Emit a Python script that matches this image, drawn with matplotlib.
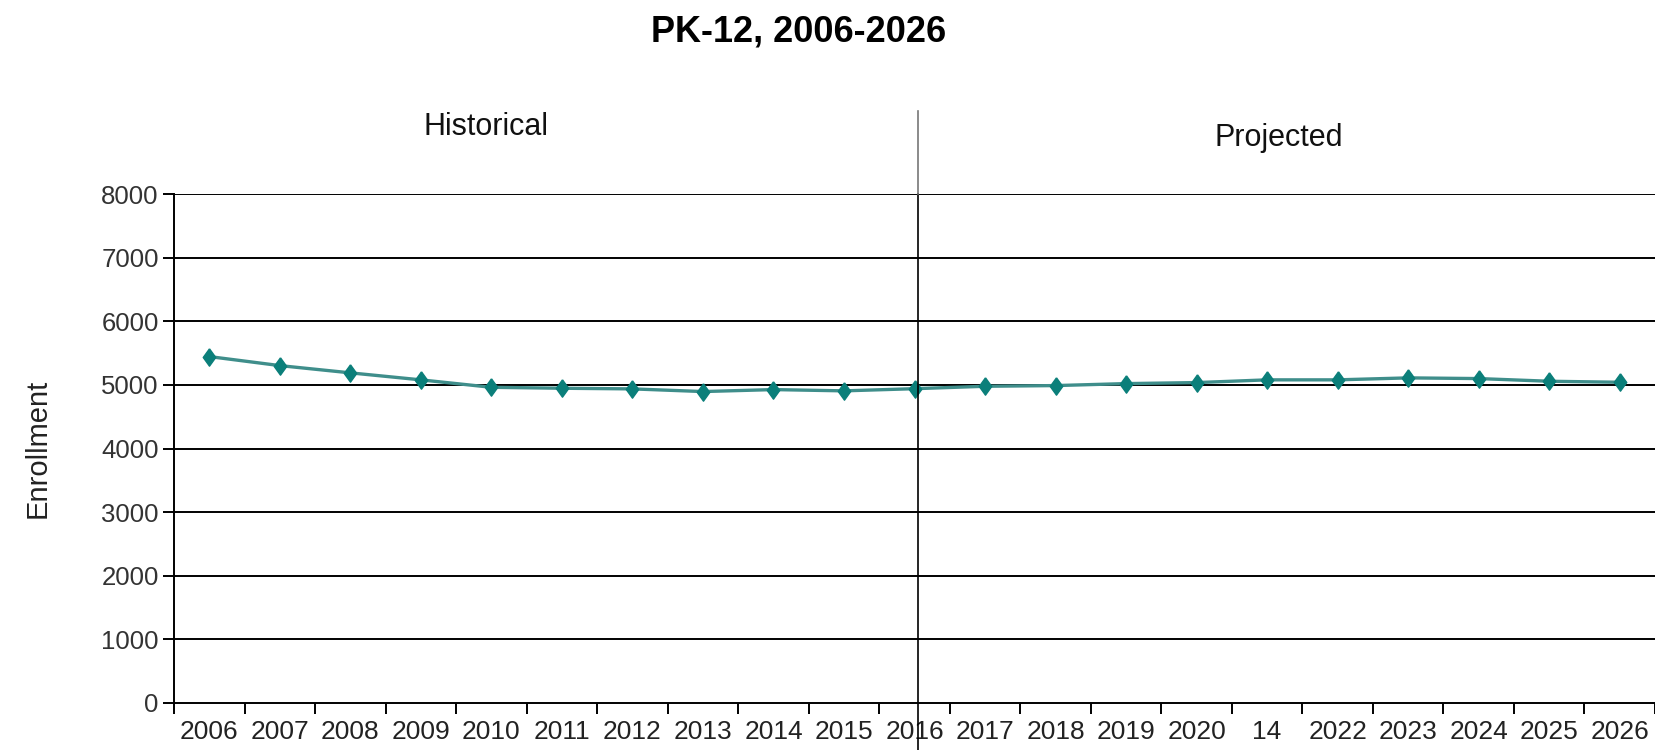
import matplotlib
matplotlib.use("Agg")
import matplotlib.pyplot as plt
from matplotlib.ticker import FixedLocator, NullFormatter

plt.rcParams['font.family'] = ['Liberation Sans', 'DejaVu Sans']

years = ["2006", "2007", "2008", "2009", "2010", "2011", "2012", "2013", "2014",
         "2015", "2016", "2017", "2018", "2019", "2020", "14", "2022", "2023",
         "2024", "2025", "2026"]
enrollment = [5445, 5303, 5189, 5079, 4962, 4947, 4937, 4895, 4926, 4906, 4940,
              4978, 4989, 5020, 5036, 5079, 5079, 5110, 5099, 5057, 5041]
y_ticks = [0, 1000, 2000, 3000, 4000, 5000, 6000, 7000, 8000]
last_historical = 10  # index of 2016

fig = plt.figure(figsize=(16.55, 7.5), dpi=100)
ax = fig.add_axes([174 / 1655, 47 / 750, 1 - 174 / 1655, (703 - 194) / 750])

n = len(years)
xs = list(range(n))

# horizontal gridlines
for v in y_ticks[1:]:
    ax.axhline(v, color="black", lw=1.4, zorder=1)

diamond = [(0, 1), (0.72, 0), (0, -1), (-0.72, 0), (0, 1)]
ax.plot(xs, enrollment, color="#3f8e8b", lw=2.4, zorder=3)
ax.plot(xs, enrollment, linestyle="none", marker=diamond, markersize=12.5,
        color="#0b7f7a", markeredgecolor="#0b7f7a", zorder=4)

ax.set_xlim(-0.5, n - 0.5)
ax.set_ylim(0, 8000)

# category boundaries get the tick marks, centres get the labels
ax.xaxis.set_major_locator(FixedLocator([i - 0.5 for i in range(n + 1)]))
ax.xaxis.set_major_formatter(NullFormatter())
ax.xaxis.set_minor_locator(FixedLocator(xs))
ax.set_xticklabels(years, minor=True)
ax.tick_params(axis="x", which="major", direction="out", length=8, width=1.4,
               color="black")
ax.tick_params(axis="x", which="minor", length=0, pad=12, labelsize=19,
               labelcolor="#222222")

ax.set_yticks(y_ticks)
ax.tick_params(axis="y", direction="out", length=8, width=1.4, pad=3,
               labelsize=18.5, labelcolor="#333333")

for side in ("top", "right"):
    ax.spines[side].set_visible(False)
ax.spines["left"].set_linewidth(1.4)
ax.spines["bottom"].set_linewidth(1.4)

# divider between historical and projected years
xd = last_historical + 0.05
ax.axvline(xd, ymin=-0.1, ymax=1.0, color="black", lw=1.2, clip_on=False, zorder=5)
ax.axvline(xd, ymin=1.0, ymax=1.163, color="#777777", lw=1.2, clip_on=False, zorder=5)

ax.set_ylabel("Enrollment", fontsize=21, color="#222222", labelpad=36)

fig.text(799 / 1655, 1 - 32 / 750, "PK-12, 2006-2026", ha="center", va="center",
         fontsize=26, fontweight="bold", color="black")
fig.text(486 / 1655, 1 - 127 / 750, "Historical", ha="center", va="center",
         fontsize=22, color="#111111")
fig.text(1279 / 1655, 1 - 138 / 750, "Projected", ha="center", va="center",
         fontsize=22, color="#111111")

fig.savefig("out.png", dpi=100, facecolor="white")
